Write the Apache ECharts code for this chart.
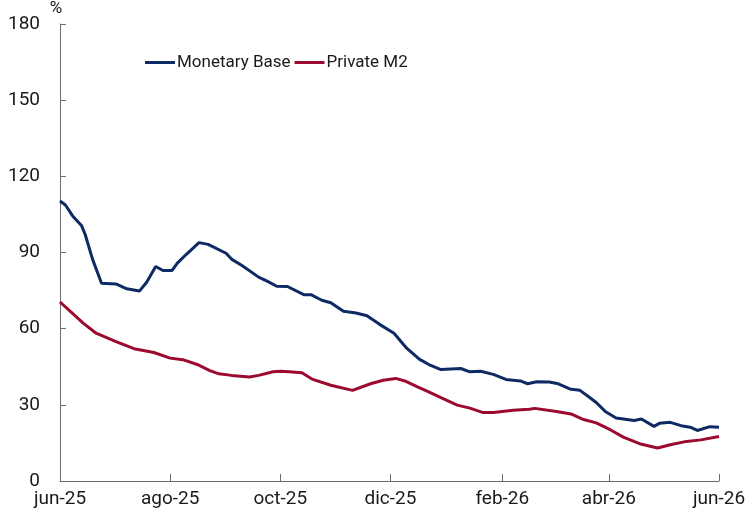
<!DOCTYPE html>
<html>
<head>
<meta charset="utf-8">
<script src="https://cdn.jsdelivr.net/npm/echarts@6/dist/echarts.min.js"></script>
<style>
html,body{margin:0;padding:0;background:#fff;}
#chart{width:749px;height:515px;}
</style>
</head>
<body>
<div id="chart"></div>
<script>
// ---- data ----
const seriesNames = ['Monetary Base', 'Private M2'];

const baseDates = ['2025-06-01','2025-06-04','2025-06-08','2025-06-13','2025-06-15','2025-06-19','2025-06-24','2025-07-02','2025-07-08','2025-07-15','2025-07-19','2025-07-24','2025-07-28','2025-08-02','2025-08-05','2025-08-10','2025-08-17','2025-08-22','2025-09-01','2025-09-04','2025-09-10','2025-09-19','2025-09-24','2025-09-29','2025-10-05','2025-10-14','2025-10-18','2025-10-24','2025-10-29','2025-11-05','2025-11-12','2025-11-18','2025-11-25','2025-12-03','2025-12-10','2025-12-17','2025-12-23','2025-12-29','2026-01-09','2026-01-14','2026-01-20','2026-01-27','2026-02-03','2026-02-11','2026-02-15','2026-02-20','2026-02-27','2026-03-04','2026-03-11','2026-03-16','2026-03-21','2026-03-25','2026-03-30','2026-04-05','2026-04-15','2026-04-19','2026-04-26','2026-04-29','2026-05-05','2026-05-11','2026-05-16','2026-05-20','2026-05-27','2026-06-01'];
const baseValues = [110.3,108.7,104.4,100.5,97.0,87.4,77.9,77.6,75.7,74.8,78.3,84.5,82.9,82.9,85.8,89.3,93.9,93.2,89.7,87.4,84.8,80.3,78.6,76.7,76.6,73.4,73.4,71.2,70.2,66.9,66.2,65.1,61.7,58.2,52.3,48.0,45.6,43.9,44.3,43.0,43.2,42.0,40.0,39.4,38.3,39.1,39.0,38.3,36.1,35.7,33.1,30.9,27.4,24.8,23.8,24.4,21.5,22.7,23.1,21.8,21.2,19.9,21.4,21.2];

const m2Dates = ['2025-06-01','2025-06-09','2025-06-14','2025-06-21','2025-07-02','2025-07-12','2025-07-23','2025-08-01','2025-08-08','2025-08-16','2025-08-23','2025-08-28','2025-09-04','2025-09-14','2025-09-19','2025-09-27','2025-10-01','2025-10-06','2025-10-13','2025-10-19','2025-10-29','2025-11-10','2025-11-20','2025-11-27','2025-12-04','2025-12-09','2025-12-16','2025-12-21','2025-12-29','2026-01-07','2026-01-14','2026-01-21','2026-01-27','2026-02-07','2026-02-16','2026-02-19','2026-03-03','2026-03-11','2026-03-18','2026-03-25','2026-04-02','2026-04-09','2026-04-18','2026-04-28','2026-05-05','2026-05-14','2026-05-22','2026-06-01'];
const m2Values = [70.5,65.3,62.1,58.2,54.9,52.1,50.6,48.4,47.8,45.9,43.5,42.2,41.6,41.0,41.6,43.0,43.2,43.0,42.6,40.0,37.7,35.7,38.3,39.7,40.4,39.4,37.1,35.5,32.8,29.9,28.7,27.0,27.0,27.9,28.3,28.6,27.4,26.4,24.2,22.9,20.1,17.3,14.7,13.0,14.3,15.6,16.2,17.5];

const tickDates = ['2025-06-01','2025-08-01','2025-10-01','2025-12-01','2026-02-01','2026-04-01','2026-06-01'];
const monthNames = ['ene','feb','mar','abr','may','jun','jul','ago','sep','oct','nov','dic'];
const yTicks = [0,30,60,90,120,150,180];

// ---- helpers ----
function parseDate(s){ const p = s.split('-').map(Number); return Date.UTC(p[0], p[1]-1, p[2]); }
function pairs(d, v){ return d.map((x,i)=>[parseDate(x), v[i]]); }
const tickTs = tickDates.map(parseDate);

const chart = echarts.init(document.getElementById('chart'), null, {renderer:'canvas'});
const axisColor = '#6b6b6b';
const font = 'Roboto';
chart.setOption({
  animation: false,
  backgroundColor: '#ffffff',
  grid: {left: 60, right: 30, top: 19, bottom: 34, containLabel: false},
  legend: {
    left: 140, top: 49,
    icon: 'rect', itemWidth: 30, itemHeight: 3, itemGap: 4,
    textStyle: {fontFamily: font, fontSize: 17, color: '#1a1a1a', padding: [0, 0, 0, -3]},
    data: seriesNames
  },
  xAxis: {
    type: 'value',
    min: tickTs[0], max: tickTs[tickTs.length-1],
    axisLine: {show: true, lineStyle: {color: axisColor, width: 1}},
    axisTick: {show: true, inside: true, length: 7, customValues: tickTs, lineStyle: {color: axisColor}},
    axisLabel: {
      customValues: tickTs,
      fontFamily: font, fontSize: 19, color: '#1a1a1a', margin: 9,
      formatter: function(v){ const d = new Date(v); return monthNames[d.getUTCMonth()] + '-' + String(d.getUTCFullYear()).slice(2); }
    },
    splitLine: {show: false}
  },
  yAxis: {
    type: 'value', min: yTicks[0], max: yTicks[yTicks.length-1], interval: 30,
    name: '%', nameLocation: 'end', nameGap: 7,
    nameTextStyle: {fontFamily: font, fontSize: 17, color: '#1a1a1a', padding: [0, 8, 0, 0]},
    axisLine: {show: true, lineStyle: {color: axisColor, width: 1}},
    axisTick: {show: true, inside: true, length: 6, lineStyle: {color: axisColor}},
    axisLabel: {fontFamily: font, fontSize: 19, color: '#1a1a1a', margin: 20},
    splitLine: {show: false}
  },
  series: [
    {name: seriesNames[0], type: 'line', data: pairs(baseDates, baseValues), showSymbol: false, symbol: 'none',
     lineStyle: {color: '#0d2a64', width: 3}, itemStyle: {color: '#0d2a64'}},
    {name: seriesNames[1], type: 'line', data: pairs(m2Dates, m2Values), showSymbol: false, symbol: 'none',
     lineStyle: {color: '#9c0a2f', width: 3}, itemStyle: {color: '#9c0a2f'}}
  ]
});
</script>
</body>
</html>
